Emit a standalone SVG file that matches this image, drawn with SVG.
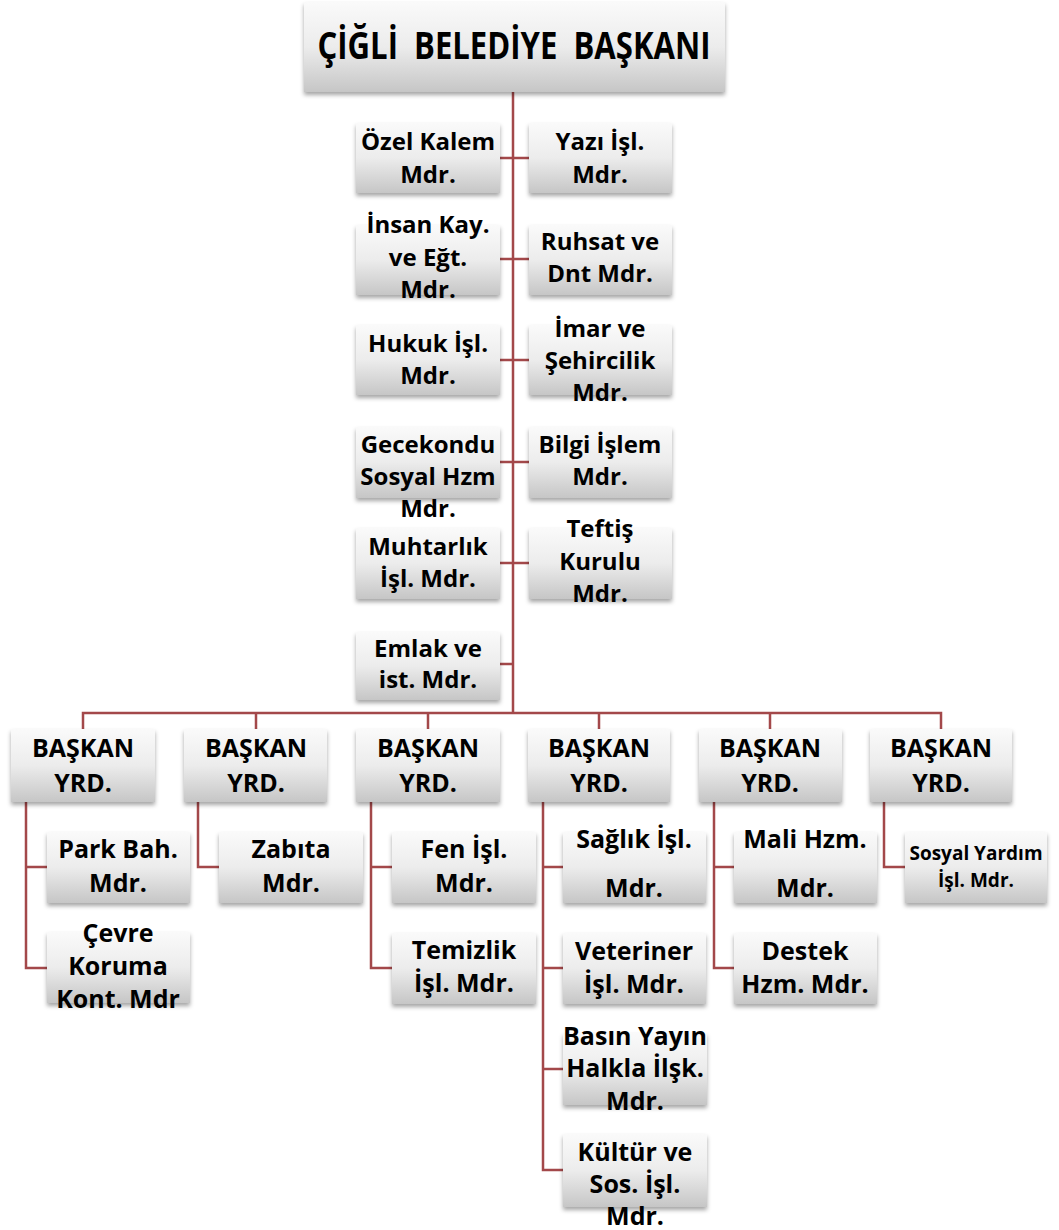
<svg xmlns="http://www.w3.org/2000/svg" width="1059" height="1230" viewBox="0 0 1059 1230">
<style>
.box{fill:url(#g);filter:url(#sh)}
.t{font-family:"Open Sans","Noto Sans","DejaVu Sans",sans-serif;font-weight:bold;fill:#000;text-anchor:middle}
.m{font-size:24px}
.b{font-size:25px}
.s{font-size:19px}
.ttl{font-size:38px}
.c{fill:none;stroke:#a3484a;stroke-width:2.5}
</style>
<defs>
<linearGradient id="g" x1="0" y1="0" x2="0" y2="1">
<stop offset="0" stop-color="#fafafa"/>
<stop offset="0.5" stop-color="#ececec"/>
<stop offset="1" stop-color="#c6c6c6"/>
</linearGradient>
<filter id="sh" x="-10%" y="-10%" width="120%" height="130%">
<feDropShadow dx="0" dy="3" stdDeviation="2" flood-color="#000" flood-opacity="0.35"/>
</filter>
</defs>
<rect width="1059" height="1230" fill="#fff"/>
<g id="connectors" class="c">
<path d="M513 92V713"/>
<path d="M500 158H529M500 259H529M500 360H529M500 462H529M500 563H529M500 664H513"/>
<path d="M83 729V713H941V729M256 713V729M428 713V729M599 713V729M770 713V729"/>
<path d="M26 802V968H47M26 867H47"/>
<path d="M198 802V867H219"/>
<path d="M371 802V968H392M371 867H392"/>
<path d="M543 802V1170H563M543 867H563M543 968H563M543 1069H563"/>
<path d="M714 802V968H734M714 867H734"/>
<path d="M884 802V867H905"/>
</g>
<g id="baskan">
<rect class="box" x="304" y="2" width="421" height="90"/>
<text class="t ttl" x="514" y="59" xml:space="preserve" textLength="393" lengthAdjust="spacingAndGlyphs">ÇİĞLİ  BELEDİYE  BAŞKANI</text>
</g>
<g id="ozel-kalem">
<rect class="box" x="356" y="123" width="144" height="70"/>
<text class="t m" x="428" y="150">Özel Kalem</text><text class="t m" x="428" y="183">Mdr.</text>
</g>
<g id="yazi-isl">
<rect class="box" x="529" y="123" width="143" height="70"/>
<text class="t m" x="600" y="150">Yazı İşl.</text><text class="t m" x="600" y="183">Mdr.</text>
</g>
<g id="insan-kay">
<rect class="box" x="356" y="225" width="144" height="70"/>
<text class="t m" x="428" y="233">İnsan Kay.</text><text class="t m" x="428" y="266">ve Eğt.</text><text class="t m" x="428" y="298">Mdr.</text>
</g>
<g id="ruhsat">
<rect class="box" x="529" y="225" width="143" height="70"/>
<text class="t m" x="600" y="250">Ruhsat ve</text><text class="t m" x="600" y="282">Dnt Mdr.</text>
</g>
<g id="hukuk">
<rect class="box" x="356" y="325" width="144" height="70"/>
<text class="t m" x="428" y="352">Hukuk İşl.</text><text class="t m" x="428" y="384">Mdr.</text>
</g>
<g id="imar">
<rect class="box" x="529" y="325" width="143" height="70"/>
<text class="t m" x="600" y="337">İmar ve</text><text class="t m" x="600" y="369">Şehircilik</text><text class="t m" x="600" y="401">Mdr.</text>
</g>
<g id="gecekondu">
<rect class="box" x="356" y="427" width="144" height="71"/>
<text class="t m" x="428" y="453">Gecekondu</text><text class="t m" x="428" y="485">Sosyal Hzm</text><text class="t m" x="428" y="517">Mdr.</text>
</g>
<g id="bilgi-islem">
<rect class="box" x="529" y="427" width="143" height="71"/>
<text class="t m" x="600" y="453">Bilgi İşlem</text><text class="t m" x="600" y="485">Mdr.</text>
</g>
<g id="muhtarlik">
<rect class="box" x="356" y="528" width="144" height="71"/>
<text class="t m" x="428" y="555">Muhtarlık</text><text class="t m" x="428" y="587">İşl. Mdr.</text>
</g>
<g id="teftis">
<rect class="box" x="529" y="528" width="143" height="71"/>
<text class="t m" x="600" y="537">Teftiş</text><text class="t m" x="600" y="570">Kurulu</text><text class="t m" x="600" y="602">Mdr.</text>
</g>
<g id="emlak">
<rect class="box" x="356" y="632" width="144" height="68"/>
<text class="t m" x="428" y="657">Emlak ve</text><text class="t m" x="428" y="688">ist. Mdr.</text>
</g>
<g id="yrd1">
<rect class="box" x="11" y="729" width="144" height="73"/>
<text class="t b" x="83" y="757">BAŞKAN</text><text class="t b" x="83" y="792">YRD.</text>
</g>
<g id="yrd2">
<rect class="box" x="184" y="729" width="143" height="73"/>
<text class="t b" x="256" y="757">BAŞKAN</text><text class="t b" x="256" y="792">YRD.</text>
</g>
<g id="yrd3">
<rect class="box" x="356" y="729" width="144" height="73"/>
<text class="t b" x="428" y="757">BAŞKAN</text><text class="t b" x="428" y="792">YRD.</text>
</g>
<g id="yrd4">
<rect class="box" x="528" y="729" width="142" height="73"/>
<text class="t b" x="599" y="757">BAŞKAN</text><text class="t b" x="599" y="792">YRD.</text>
</g>
<g id="yrd5">
<rect class="box" x="699" y="729" width="143" height="73"/>
<text class="t b" x="770" y="757">BAŞKAN</text><text class="t b" x="770" y="792">YRD.</text>
</g>
<g id="yrd6">
<rect class="box" x="870" y="729" width="142" height="73"/>
<text class="t b" x="941" y="757">BAŞKAN</text><text class="t b" x="941" y="792">YRD.</text>
</g>
<g id="park-bah">
<rect class="box" x="47" y="832" width="143" height="71"/>
<text class="t b" x="118" y="858">Park Bah.</text><text class="t b" x="118" y="892">Mdr.</text>
</g>
<g id="cevre">
<rect class="box" x="47" y="932" width="143" height="71"/>
<text class="t b" x="118" y="942">Çevre</text><text class="t b" x="118" y="975">Koruma</text><text class="t b" x="118" y="1008">Kont. Mdr</text>
</g>
<g id="zabita">
<rect class="box" x="219" y="832" width="144" height="71"/>
<text class="t b" x="291" y="858">Zabıta</text><text class="t b" x="291" y="892">Mdr.</text>
</g>
<g id="fen-isl">
<rect class="box" x="392" y="832" width="144" height="71"/>
<text class="t b" x="464" y="858">Fen İşl.</text><text class="t b" x="464" y="892">Mdr.</text>
</g>
<g id="temizlik">
<rect class="box" x="392" y="933" width="144" height="71"/>
<text class="t b" x="464" y="959">Temizlik</text><text class="t b" x="464" y="992">İşl. Mdr.</text>
</g>
<g id="saglik">
<rect class="box" x="563" y="832" width="143" height="71"/>
<text class="t b" x="634" y="848">Sağlık İşl.</text><text class="t b" x="634" y="897">Mdr.</text>
</g>
<g id="veteriner">
<rect class="box" x="563" y="933" width="143" height="71"/>
<text class="t b" x="634" y="960">Veteriner</text><text class="t b" x="634" y="993">İşl. Mdr.</text>
</g>
<g id="basin">
<rect class="box" x="563" y="1033" width="144" height="72"/>
<text class="t b" x="635" y="1045">Basın Yayın</text><text class="t b" x="635" y="1077">Halkla İlşk.</text><text class="t b" x="635" y="1110">Mdr.</text>
</g>
<g id="kultur">
<rect class="box" x="563" y="1134" width="144" height="73"/>
<text class="t b" x="635" y="1161">Kültür ve</text><text class="t b" x="635" y="1193">Sos. İşl.</text><text class="t b" x="635" y="1225">Mdr.</text>
</g>
<g id="mali">
<rect class="box" x="734" y="832" width="143" height="71"/>
<text class="t b" x="805" y="848">Mali Hzm.</text><text class="t b" x="805" y="897">Mdr.</text>
</g>
<g id="destek">
<rect class="box" x="734" y="933" width="143" height="71"/>
<text class="t b" x="805" y="960">Destek</text><text class="t b" x="805" y="993">Hzm. Mdr.</text>
</g>
<g id="sosyal-yardim">
<rect class="box" x="905" y="832" width="142" height="71"/>
<text class="t s" x="976" y="860">Sosyal Yardım</text><text class="t s" x="976" y="887">İşl. Mdr.</text>
</g>
</svg>
